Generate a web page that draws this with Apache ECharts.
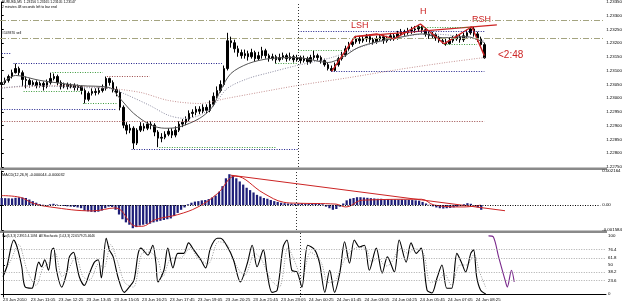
<!DOCTYPE html>
<html>
<head>
<meta charset="utf-8">
<script src="https://cdn.jsdelivr.net/npm/echarts@6/dist/echarts.min.js"></script>
<style>
html,body{margin:0;padding:0;background:#fff}
#chart{width:625px;height:306px}
</style>
</head>
<body>
<div id="chart"></div>
<script>
// time axis labels, one every 8 bars (80 minutes)
const tickLabels = ['23 Jun 2010','23 Jun 11:05','23 Jun 12:25','23 Jun 13:45','23 Jun 15:05','23 Jun 16:25',
  '23 Jun 17:45','23 Jun 19:05','23 Jun 20:25','23 Jun 21:45','23 Jun 23:05','24 Jun 00:25',
  '24 Jun 01:45','24 Jun 03:05','24 Jun 04:25','24 Jun 05:45','24 Jun 07:05','24 Jun 08:25']
const tickEvery = 8
const chartShift = 34   // empty bars on the right
const daySplit = 85.5   // 24 Jun 00:00

const opens = [
1.23050,1.23057,1.23065,1.23079,1.23093,1.23108,1.23093,1.23068,1.23065,1.23050,
1.23057,1.23046,1.23054,1.23043,1.23057,1.23072,1.23079,1.23057,1.23043,1.23050,
1.23043,1.23046,1.23039,1.23043,1.23028,1.22996,1.23018,1.23025,1.23021,1.23028,
1.23036,1.23072,1.23057,1.23032,1.23021,1.22967,1.22902,1.22884,1.22891,1.22837,
1.22884,1.22898,1.22891,1.22906,1.22902,1.22877,1.22855,1.22858,1.22869,1.22880,
1.22866,1.22884,1.22906,1.22913,1.22924,1.22945,1.22949,1.22960,1.22953,1.22967,
1.22956,1.22978,1.23007,1.23028,1.23050,1.23108,1.23209,1.23202,1.23180,1.23166,
1.23155,1.23162,1.23151,1.23166,1.23144,1.23155,1.23173,1.23155,1.23144,1.23151,
1.23140,1.23148,1.23155,1.23144,1.23151,1.23140,1.23148,1.23137,1.23144,1.23133,
1.23148,1.23155,1.23148,1.23137,1.23122,1.23108,1.23101,1.23122,1.23144,1.23158,
1.23180,1.23195,1.23205,1.23216,1.23209,1.23216,1.23224,1.23213,1.23205,1.23216,
1.23224,1.23209,1.23216,1.23227,1.23220,1.23234,1.23242,1.23238,1.23245,1.23249,
1.23252,1.23260,1.23249,1.23234,1.23227,1.23231,1.23220,1.23209,1.23205,1.23198,
1.23209,1.23216,1.23224,1.23213,1.23227,1.23238,1.23252,1.23234,1.23216,1.23195]
const closes = [
1.23057,1.23065,1.23079,1.23093,1.23108,1.23093,1.23068,1.23065,1.23050,1.23057,
1.23046,1.23054,1.23043,1.23057,1.23072,1.23079,1.23057,1.23043,1.23050,1.23043,
1.23046,1.23039,1.23043,1.23028,1.22996,1.23018,1.23025,1.23021,1.23028,1.23036,
1.23072,1.23057,1.23032,1.23021,1.22967,1.22902,1.22884,1.22891,1.22837,1.22884,
1.22898,1.22891,1.22906,1.22902,1.22877,1.22855,1.22858,1.22869,1.22880,1.22866,
1.22884,1.22906,1.22913,1.22924,1.22945,1.22949,1.22960,1.22953,1.22967,1.22956,
1.22978,1.23007,1.23028,1.23050,1.23108,1.23209,1.23202,1.23180,1.23166,1.23155,
1.23162,1.23151,1.23166,1.23144,1.23155,1.23173,1.23155,1.23144,1.23151,1.23140,
1.23148,1.23155,1.23144,1.23151,1.23140,1.23148,1.23137,1.23144,1.23133,1.23148,
1.23155,1.23148,1.23137,1.23122,1.23108,1.23101,1.23122,1.23144,1.23158,1.23180,
1.23195,1.23205,1.23216,1.23209,1.23216,1.23224,1.23213,1.23205,1.23216,1.23224,
1.23209,1.23216,1.23227,1.23220,1.23234,1.23242,1.23238,1.23245,1.23249,1.23252,
1.23260,1.23249,1.23234,1.23227,1.23231,1.23220,1.23209,1.23205,1.23198,1.23209,
1.23216,1.23224,1.23213,1.23227,1.23238,1.23252,1.23234,1.23216,1.23195,1.23147]
const highs = [
1.23072,1.23075,1.23086,1.23104,1.23126,1.23115,1.23101,1.23079,1.23072,1.23065,
1.23065,1.23061,1.23061,1.23068,1.23093,1.23090,1.23086,1.23065,1.23057,1.23057,
1.23054,1.23054,1.23050,1.23046,1.23036,1.23025,1.23036,1.23036,1.23039,1.23050,
1.23079,1.23075,1.23065,1.23043,1.23028,1.22974,1.22913,1.22906,1.22898,1.22891,
1.22913,1.22909,1.22916,1.22916,1.22909,1.22884,1.22873,1.22880,1.22891,1.22891,
1.22898,1.22916,1.22924,1.22934,1.22956,1.22960,1.22971,1.22971,1.22978,1.22978,
1.22992,1.23021,1.23043,1.23065,1.23119,1.23238,1.23224,1.23213,1.23191,1.23177,
1.23177,1.23173,1.23180,1.23173,1.23169,1.23187,1.23180,1.23162,1.23162,1.23158,
1.23162,1.23166,1.23162,1.23166,1.23158,1.23158,1.23155,1.23155,1.23151,1.23158,
1.23173,1.23162,1.23155,1.23144,1.23130,1.23119,1.23130,1.23151,1.23169,1.23191,
1.23205,1.23216,1.23227,1.23227,1.23227,1.23234,1.23231,1.23220,1.23227,1.23234,
1.23231,1.23227,1.23238,1.23234,1.23245,1.23252,1.23249,1.23256,1.23260,1.23263,
1.23267,1.23263,1.23256,1.23242,1.23242,1.23238,1.23227,1.23220,1.23216,1.23220,
1.23227,1.23234,1.23231,1.23238,1.23249,1.23260,1.23260,1.23242,1.23224,1.23202]
const lows = [
1.23039,1.23050,1.23057,1.23072,1.23090,1.23083,1.23043,1.23036,1.23039,1.23043,
1.23036,1.23039,1.23028,1.23036,1.23050,1.23065,1.23046,1.23032,1.23036,1.23032,
1.23036,1.23028,1.23028,1.23014,1.22981,1.22989,1.23010,1.23010,1.23014,1.23021,
1.23028,1.23046,1.23021,1.23007,1.22956,1.22891,1.22869,1.22873,1.22815,1.22830,
1.22877,1.22880,1.22884,1.22887,1.22862,1.22822,1.22840,1.22851,1.22862,1.22855,
1.22858,1.22877,1.22895,1.22902,1.22916,1.22931,1.22938,1.22942,1.22945,1.22945,
1.22949,1.22971,1.23000,1.23021,1.23043,1.23101,1.23184,1.23166,1.23151,1.23144,
1.23144,1.23137,1.23144,1.23133,1.23137,1.23144,1.23144,1.23133,1.23137,1.23126,
1.23133,1.23140,1.23133,1.23137,1.23130,1.23133,1.23126,1.23130,1.23122,1.23126,
1.23140,1.23137,1.23126,1.23115,1.23101,1.23097,1.23097,1.23115,1.23137,1.23151,
1.23173,1.23187,1.23198,1.23198,1.23202,1.23205,1.23202,1.23195,1.23198,1.23209,
1.23198,1.23202,1.23209,1.23209,1.23213,1.23227,1.23227,1.23231,1.23234,1.23238,
1.23242,1.23238,1.23224,1.23216,1.23216,1.23209,1.23202,1.23198,1.23191,1.23195,
1.23202,1.23209,1.23202,1.23205,1.23220,1.23231,1.23224,1.23205,1.23184,1.23144]

// moving averages, [bar, price]
const fastMA = [[0,1.23054],[4,1.23083],[11,1.23065],[22.6,1.23046],[31,1.23039],[34,1.23000],[38,1.22945],
  [43,1.22902],[47,1.22891],[51,1.22895],[57,1.22927],[60.6,1.22967],[63,1.23028],[66,1.23090],[71,1.23126],
  [77,1.23144],[85,1.23148],[94,1.23130],[98,1.23148],[102.6,1.23184],[108,1.23205],[114,1.23220],
  [121,1.23234],[127,1.23220],[134,1.23224],[139,1.23202]]
const midMA = [[0,1.23036],[8,1.23046],[22.6,1.23039],[31,1.23036],[35,1.23018],[42.6,1.22974],[48,1.22938],
  [52.6,1.22927],[57,1.22938],[61,1.22974],[65,1.23036],[71,1.23072],[77,1.23093],[85,1.23119],[95,1.23148],
  [104.6,1.23191],[114,1.23220],[122.6,1.23234],[131,1.23227],[139,1.23209]]
const slowMA = [[0,1.23039],[17,1.23046],[31,1.23036],[40,1.23021],[48,1.22992],[57,1.22981],[65,1.23000],
  [74,1.23021],[85,1.23046],[100,1.23075],[114,1.23104],[128,1.23130],[139,1.23148]]

// hand drawn head and shoulders
const zigzag = [[95,1.23097],[101.7,1.23224],[108,1.23234],[113,1.23216],[120.6,1.23270],[127.4,1.23198],[135.4,1.23260],[139,1.23155]]
const shoulderLine = [[101.7,1.23224],[142.6,1.23267]]

// horizontal levels: [price, fromBar, toBar]
const navyLevels = [[1.23162,0,2.6],[1.23126,3.4,63.4],[1.22960,0,33],[1.22815,37.4,85.4],[1.23245,85.4,139],[1.23097,94.9,139]]
const greenLevels = [[1.23093,14.6,29.1],[1.23025,6.3,23.1],[1.22981,23.4,33.1],[1.22822,45.4,78.9],[1.23126,78.9,85.4],
  [1.23173,85.4,98.3],[1.23260,119.7,134.9],[1.23198,127.4,136.9]]
const brownLevels = [[1.22916,0,139],[1.23079,30.3,42.6]]
const orderLevels = [1.23285, 1.23220]

const macdHist = [
0.00045,0.00044,0.00043,0.00042,0.00046,0.00049,0.00048,0.00045,0.00035,0.00025,
0.00015,0.00006,0.00002,-0.00003,0.00005,0.00008,0.00003,-0.00003,-0.00006,-0.00008,
-0.00010,-0.00012,-0.00015,-0.00020,-0.00035,-0.00040,-0.00043,-0.00045,-0.00042,-0.00035,
-0.00020,-0.00010,-0.00012,-0.00030,-0.00060,-0.00090,-0.00110,-0.00125,-0.00147,-0.00140,
-0.00130,-0.00125,-0.00120,-0.00118,-0.00110,-0.00105,-0.00100,-0.00095,-0.00090,-0.00085,
-0.00070,-0.00050,-0.00030,-0.00015,0.00005,0.00015,0.00022,0.00025,0.00030,0.00032,
0.00038,0.00048,0.00060,0.00085,0.00120,0.00170,0.00196,0.00190,0.00170,0.00150,
0.00130,0.00110,0.00095,0.00080,0.00065,0.00055,0.00045,0.00040,0.00032,0.00025,
0.00020,0.00015,0.00012,0.00010,0.00010,0.00008,0.00010,0.00012,0.00008,0.00010,
0.00012,0.00012,0.00010,0.00005,-0.00010,-0.00020,-0.00030,-0.00025,-0.00010,0.00010,
0.00030,0.00040,0.00045,0.00050,0.00050,0.00048,0.00046,0.00044,0.00042,0.00040,
0.00040,0.00038,0.00038,0.00036,0.00035,0.00035,0.00035,0.00034,0.00033,0.00032,
0.00030,0.00028,0.00020,0.00010,0.00002,-0.00008,-0.00015,-0.00020,-0.00022,-0.00020,
-0.00018,-0.00015,-0.00010,-0.00005,0.00005,0.00012,0.00008,-0.00002,-0.00015,-0.00030]
const macdSignal = [[0,0.0006],[5.4,0.00049],[9,0.00012],[14,-0.00012],[26.3,-0.00037],[33,-0.00018],[39,-0.00135],
  [40.6,-0.00135],[44.6,-0.00092],[51,-0.00061],[56.9,-0.00012],[62.6,0.00074],[67.7,0.00184],[76,0.00074],
  [81.7,0.00018],[85.4,0.00012],[96.9,0.00006],[99.7,-0.00012],[104.6,0.00031],[121.7,0.00037],[125.4,0],
  [134,-0.00012],[138.9,0]]
const macdTrend = [[66.3,0.0019],[145.9,-0.00036]]
const macdMin = -0.001584, macdMax = 0.002164

const stochMain = [[0,30],[1.1,47],[3.1,93],[4,82],[5.4,47],[6.3,13],[8.3,10],[8.9,19],[10.3,55],[11.1,47],[12,59],
  [13.1,41],[14,76],[14.6,79],[15.4,41],[16.9,12],[18.3,36],[19.1,64],[20.3,72],[21.1,53],[22,29],[23.4,15],
  [24.9,36],[26.3,55],[27.4,59],[28.3,28],[29.7,96],[30.6,76],[31.7,64],[33.1,29],[34.9,3],[36.3,12],[37.7,24],
  [38.9,70],[39.7,79],[41.7,67],[43.1,84],[44,53],[44.6,21],[46.3,41],[47.4,79],[48.9,45],[50.3,70],[52,70],
  [53.4,88],[54.9,76],[56.9,59],[58.3,45],[59.7,79],[61.7,96],[62.6,96],[64.6,81],[66.3,59],[68.3,21],[70.3,53],
  [71.7,84],[73.1,47],[74.9,76],[76,36],[77.4,3],[78.9,7],[80.6,81],[81.7,93],[83.1,41],[84.6,38],[86,12],
  [87.7,84],[89.7,76],[91.1,53],[92.6,3],[94,41],[95.4,3],[96.9,36],[98.3,90],[99.7,53],[101.1,93],[102.6,81],
  [104,84],[105.4,41],[107.4,79],[109.1,36],[110.6,64],[112.6,38],[114,93],[116,55],[117.4,88],[118.9,70],
  [120.3,79],[122,7],[123.4,2],[124.9,28],[126.3,50],[127.7,10],[129.1,10],[130.6,70],[132,53],[133.1,38],
  [134.6,70],[135.4,76],[136.3,29],[137.4,7],[138.9,0]]
const stochSignal = [[0,35],[2,55],[4.5,85],[7,40],[9.5,15],[11.5,45],[13,52],[15,70],[17,30],[19,45],[21,65],[23,30],
  [25,25],[27.5,52],[29,45],[31,85],[33,55],[35,20],[37.5,12],[40,70],[42,72],[44.5,60],[46,30],[48.5,62],[51,62],
  [54,80],[56,62],[59,52],[62,90],[64.5,85],[67,50],[69.5,32],[72.5,70],[74.5,58],[77,25],[79.5,12],[82,80],
  [84,55],[86,28],[88.5,72],[91.5,55],[93.5,20],[95.5,22],[97.5,50],[99.5,70],[102,80],[104.5,78],[106,55],
  [108,62],[110,48],[111.5,52],[114.5,78],[116.5,70],[118.5,78],[121,70],[123,20],[125.5,25],[127,35],[129,15],
  [131.5,50],[133.5,50],[135.5,68],[137,40],[139,10]]
const stochProjection = [[139.7,100],[141.1,98],[142.6,64],[144.6,21],[145.1,12],[146.3,41],[147.1,21]]
const stochLevels = [76.4, 61.8, 38.2, 23.6]
const stochTicks = [0, 23.6, 38.2, 50, 61.8, 76.4, 100]

const N = closes.length + chartShift
const cats = []
for (let i = 0; i < N; i++) {
  let k = i / tickEvery
  cats.push(i % tickEvery === 0 && k < tickLabels.length ? tickLabels[k] : '')
}
const candles = closes.map((c, i) => [opens[i], c, lows[i], highs[i]])
const lastClose = closes[closes.length - 1]

const font = 'Liberation Sans, Arial, sans-serif'
const red = '#cc2424'

function levelLines(list, color, type) {
  return list.map(l => [
    {coord: [l[1], l[0]], lineStyle: {color: color, type: type, width: 1}},
    {coord: [l[2], l[0]]}
  ])
}
const dayLine = {xAxis: daySplit, lineStyle: {color: '#333', type: [1, 2], width: 1}}

let chart = echarts.init(document.getElementById('chart'))
chart.setOption({
  animation: false,
  textStyle: {fontFamily: font},
  grid: [
    {left: 0, right: 19, top: 1, height: 166},
    {left: 0, right: 19, top: 171, height: 59},
    {left: 0, right: 19, top: 233, height: 64}
  ],
  xAxis: [
    {type: 'category', gridIndex: 0, data: cats, show: false},
    {type: 'value', gridIndex: 0, min: -0.5, max: N - 0.5, show: false},
    {type: 'category', gridIndex: 1, data: cats, show: false},
    {type: 'value', gridIndex: 1, min: -0.5, max: N - 0.5, show: false},
    {type: 'category', gridIndex: 2, data: cats,
      axisLine: {lineStyle: {color: '#000', width: 1}},
      axisTick: {length: 2, alignWithLabel: true, interval: (i) => cats[i] !== '', lineStyle: {color: '#000'}},
      axisLabel: {interval: 0, align: 'left', fontSize: 4.3, color: '#000', margin: 1}},
    {type: 'value', gridIndex: 2, min: -0.5, max: N - 0.5, show: false}
  ],
  yAxis: [
    {type: 'value', gridIndex: 0, position: 'right', min: 1.2275, max: 1.2335, interval: 0.0005,
      axisLine: {show: true, lineStyle: {color: '#000'}},
      axisTick: {show: true, length: 2, lineStyle: {color: '#000'}},
      axisLabel: {fontSize: 4.4, color: '#000', margin: 2, formatter: v => v.toFixed(5)},
      splitLine: {show: false}},
    {type: 'value', gridIndex: 1, position: 'right', min: macdMin, max: macdMax,
      axisLine: {show: true, lineStyle: {color: '#000'}},
      axisTick: {show: true, length: 2, customValues: [macdMin, 0, macdMax], lineStyle: {color: '#000'}},
      axisLabel: {fontSize: 4.4, color: '#000', margin: 2, customValues: [macdMin, 0, macdMax],
        formatter: v => v === 0 ? '0.00' : v.toFixed(6)},
      splitLine: {show: false}},
    {type: 'value', gridIndex: 2, position: 'right', min: -5, max: 105,
      axisLine: {show: true, lineStyle: {color: '#000'}},
      axisTick: {show: true, length: 2, customValues: stochTicks, lineStyle: {color: '#000'}},
      axisLabel: {fontSize: 4.4, color: '#000', margin: 2, customValues: stochTicks, formatter: v => String(v)},
      splitLine: {show: false}}
  ],
  series: [
    {type: 'candlestick', xAxisIndex: 0, yAxisIndex: 0, data: candles, barWidth: 2,
      itemStyle: {color: '#000', color0: '#000', borderColor: '#000', borderColor0: '#000', borderWidth: 1},
      markLine: {symbol: ['none', 'none'], silent: true,
        data: [{yAxis: lastClose}],
        lineStyle: {opacity: 0},
        label: {show: true, position: 'end', distance: 1, formatter: lastClose.toFixed(5),
          backgroundColor: '#000', color: '#fff', fontSize: 4.4, padding: [1, 1]}}},
    {type: 'line', xAxisIndex: 1, yAxisIndex: 0, data: slowMA, smooth: 0.3, symbol: 'none',
      lineStyle: {color: '#c49090', width: 1, type: [1, 1.5]},
      markLine: {symbol: ['none', 'none'], silent: true, label: {show: false},
        data: [].concat(
          levelLines(navyLevels, '#1c1c8a', [1, 1.5]),
          levelLines(greenLevels, '#3a9a3a', [1, 1.5]),
          levelLines(brownLevels, '#9a4848', [1, 1.5]),
          orderLevels.map(p => [
            {coord: [-0.5, p], lineStyle: {color: '#a4a480', type: [6, 2, 1, 2], width: 1}},
            {coord: [N - 0.5, p]}]),
          [dayLine])}},
    {type: 'line', xAxisIndex: 1, yAxisIndex: 0, data: midMA, smooth: 0.3, symbol: 'none',
      lineStyle: {color: '#8a8aa0', width: 1, type: [1, 1.5]}},
    {type: 'line', xAxisIndex: 1, yAxisIndex: 0, data: fastMA, smooth: 0.3, symbol: 'none',
      lineStyle: {color: '#555', width: 1}},
    {type: 'line', xAxisIndex: 1, yAxisIndex: 0, data: zigzag, symbol: 'none',
      lineStyle: {color: red, width: 1.4}},
    {type: 'line', xAxisIndex: 1, yAxisIndex: 0, data: shoulderLine, symbol: 'none',
      lineStyle: {color: red, width: 1.4}},
    {type: 'bar', xAxisIndex: 2, yAxisIndex: 1, data: macdHist, barWidth: '65%',
      itemStyle: {color: '#1e1e78'}},
    {type: 'line', xAxisIndex: 3, yAxisIndex: 1, data: macdSignal, smooth: 0.4, symbol: 'none',
      lineStyle: {color: red, width: 1},
      markLine: {symbol: ['none', 'none'], silent: true, label: {show: false},
        data: [{yAxis: 0, lineStyle: {color: '#000', type: [1, 1.5], width: 1}}, dayLine]}},
    {type: 'line', xAxisIndex: 3, yAxisIndex: 1, data: macdTrend, symbol: 'none',
      lineStyle: {color: red, width: 1}},
    {type: 'line', xAxisIndex: 5, yAxisIndex: 2, data: stochSignal, smooth: 0.3, symbol: 'none',
      lineStyle: {color: '#999', width: 1, type: [1, 1.5]}},
    {type: 'line', xAxisIndex: 5, yAxisIndex: 2, data: stochMain, smooth: 0.3, symbol: 'none',
      lineStyle: {color: '#000', width: 1.1},
      markLine: {symbol: ['none', 'none'], silent: true, label: {show: false},
        data: stochLevels.map(v => ({yAxis: v, lineStyle: {color: '#aaa', type: [1, 1.5], width: 1}})).concat([dayLine])}},
    {type: 'line', xAxisIndex: 5, yAxisIndex: 2, data: stochProjection, smooth: 0.3, symbol: 'none',
      lineStyle: {color: '#7a2a8c', width: 1.1}}
  ],
  graphic: [
    {type: 'rect', shape: {x: 0, y: 167.5, width: 607, height: 2.5}, style: {fill: '#8a8a8a'}, silent: true},
    {type: 'rect', shape: {x: 0, y: 230.5, width: 607, height: 2.5}, style: {fill: '#8a8a8a'}, silent: true},
    {type: 'text', left: 2, top: 1, style: {text: 'EURUSD,M5  1.23156 1.23165 1.23105 1.23147', fontSize: 3.4, fill: '#000', fontFamily: font}},
    {type: 'text', left: 2, top: 5.5, style: {text: '2 minutes 48 seconds left to bar end', fontSize: 3.4, fill: '#000', fontFamily: font}},
    {type: 'text', left: 2, top: 32, style: {text: '#149370 sell', fontSize: 3.4, fill: '#000', fontFamily: font}},
    {type: 'text', left: 2, top: 172.5, style: {text: 'MACD(12,26,9) -0.000044 -0.000032', fontSize: 3.8, fill: '#000', fontFamily: font}},
    {type: 'text', left: 2, top: 235, style: {text: 'Sto(5,3,3) 2.3915 4.1094  All Stochastic (14,3,3) 22.6579 25.4646', fontSize: 3.2, fill: '#000', fontFamily: font}},
    {type: 'text', left: 351, top: 21, style: {text: 'LSH', fontSize: 9, fill: red, fontFamily: font}},
    {type: 'text', left: 420, top: 7, style: {text: 'H', fontSize: 9, fill: red, fontFamily: font}},
    {type: 'text', left: 472, top: 15, style: {text: 'RSH', fontSize: 9, fill: red, fontFamily: font}},
    {type: 'text', left: 498, top: 50, style: {text: '<2:48', fontSize: 10, fill: red, fontFamily: font}}
  ]
})
</script>
</body>
</html>
